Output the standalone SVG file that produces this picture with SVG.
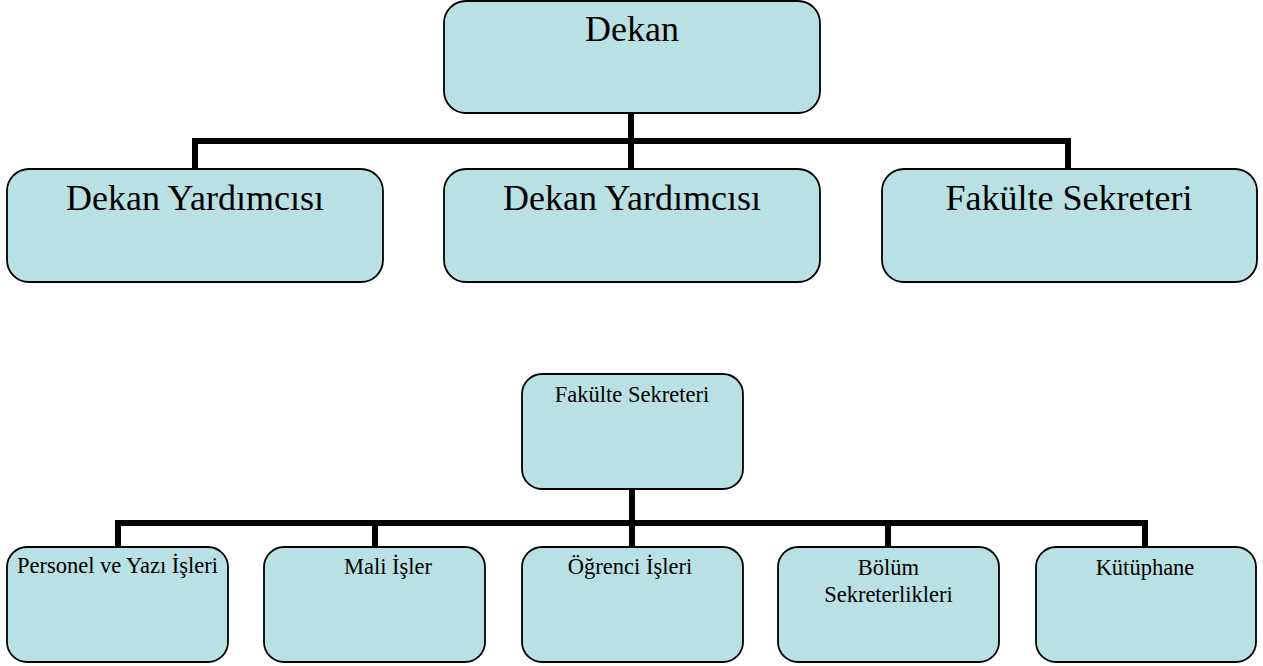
<svg xmlns="http://www.w3.org/2000/svg" width="1263" height="666" viewBox="0 0 1263 666">
<style>
.box{fill:#b9e0e3;stroke:#000;stroke-width:1.8}
.big{font-family:"Liberation Serif","Times New Roman",serif;font-size:36px;fill:#000;text-anchor:middle}
.sm{font-family:"Liberation Serif","Times New Roman",serif;font-size:22.5px;fill:#000;text-anchor:middle}
.conn{stroke:#000;stroke-width:6;fill:none}
</style>
<rect width="1263" height="666" fill="#fff"/>
<g id="connectors">
<path class="conn" d="M631 113V169M195 141H1068M195 138V169M1068 138V169"/>
<path class="conn" d="M632 489V547M118 523H1145M118 520V547M375 520V547M888 520V547M1145 520V547"/>
</g>
<g id="dekan"><rect class="box" x="444" y="1" width="376" height="112" rx="22"/><text class="big" x="632" y="41">Dekan</text></g>
<g id="dekan-yrd-1"><rect class="box" x="7" y="169" width="376" height="113" rx="22"/><text class="big" x="195" y="210">Dekan Yardımcısı</text></g>
<g id="dekan-yrd-2"><rect class="box" x="444" y="169" width="376" height="113" rx="22"/><text class="big" x="632" y="210">Dekan Yardımcısı</text></g>
<g id="fakulte-sekreteri"><rect class="box" x="882" y="169" width="375" height="113" rx="22"/><text class="big" x="1069" y="210">Fakülte Sekreteri</text></g>
<g id="fakulte-sekreteri-2"><rect class="box" x="522" y="374" width="221" height="115" rx="20"/><text class="sm" x="632" y="402">Fakülte Sekreteri</text></g>
<g id="personel"><rect class="box" x="7" y="547" width="221" height="115" rx="20"/><text class="sm" x="117.5" y="573">Personel ve Yazı İşleri</text></g>
<g id="mali"><rect class="box" x="264" y="547" width="221" height="115" rx="20"/><text class="sm" x="388" y="574">Mali İşler</text></g>
<g id="ogrenci"><rect class="box" x="522" y="547" width="221" height="115" rx="20"/><text class="sm" x="630" y="574">Öğrenci İşleri</text></g>
<g id="bolum"><rect class="box" x="778" y="547" width="221" height="115" rx="20"/><text class="sm" x="888.5" y="575">Bölüm</text><text class="sm" x="888.5" y="602">Sekreterlikleri</text></g>
<g id="kutuphane"><rect class="box" x="1036" y="547" width="220" height="115" rx="20"/><text class="sm" x="1145" y="575">Kütüphane</text></g>
</svg>
